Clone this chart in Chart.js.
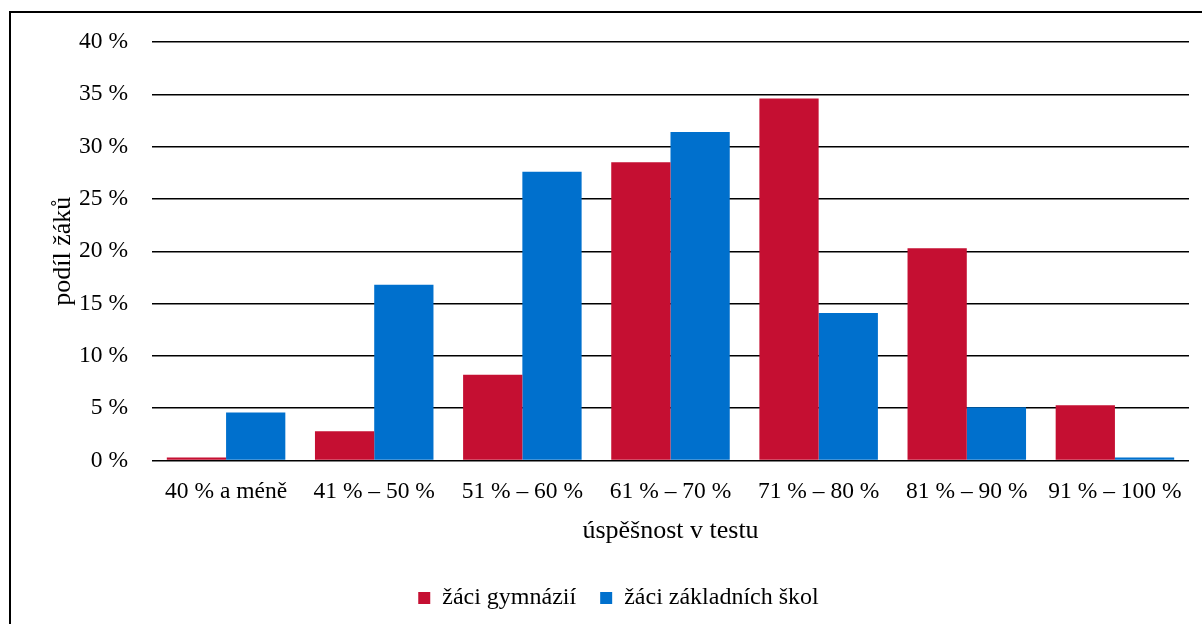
<!DOCTYPE html>
<html lang="cs">
<head>
<meta charset="UTF-8">
<title>Úspěšnost v testu</title>
<script src="https://cdn.jsdelivr.net/npm/chart.js"></script>
<style>
  html, body { margin: 0; padding: 0; background: #fff; overflow: hidden; }
  #wrap { width: 1202px; height: 624px; position: relative; }
</style>
</head>
<body>
<div id="wrap"><canvas id="chart" width="1202" height="624"></canvas></div>
<script>
const categories = ['40 % a méně', '41 % – 50 %', '51 % – 60 %', '61 % – 70 %', '71 % – 80 %', '81 % – 90 %', '91 % – 100 %'];
const gymnazia = [0.3, 2.8, 8.2, 28.5, 34.6, 20.3, 5.3];
const zakladniSkoly = [4.6, 16.8, 27.6, 31.4, 14.1, 5.1, 0.3];
const yTicks = [0, 5, 10, 15, 20, 25, 30, 35, 40];

const FONT = "'Liberation Serif', 'Times New Roman', serif";
const TICK_FS = 23.5;
const TITLE_FS = 26;
const LEGEND_FS = 24;
Chart.defaults.font.family = FONT;
Chart.defaults.font.size = TICK_FS;
Chart.defaults.color = '#000';

// outer frame of the chart
const framePlugin = {
    id: 'frame',
    afterDraw(chart) {
        const c = chart.ctx;
        c.save();
        c.strokeStyle = '#000';
        c.lineWidth = 2;
        c.strokeRect(10, 12, 1400, 800);
        c.restore();
    }
};

new Chart(document.getElementById('chart').getContext('2d'), {
    type: 'bar',
    data: {
        labels: categories,
        datasets: [
            { label: 'žáci gymnázií', data: gymnazia, backgroundColor: '#C50F32' },
            { label: 'žáci základních škol', data: zakladniSkoly, backgroundColor: '#0070CD' }
        ]
    },
    options: {
        responsive: false,
        animation: false,
        categoryPercentage: 0.8,
        barPercentage: 1,
        layout: { padding: { left: 48, right: 13, top: 42, bottom: 4 } },
        plugins: {
            tooltip: { enabled: false },
            legend: {
                position: 'bottom',
                labels: {
                    boxWidth: 12,
                    boxHeight: 12,
                    padding: 24,
                    font: { size: LEGEND_FS, family: FONT }
                }
            }
        },
        scales: {
            x: {
                grid: { display: false, drawTicks: false },
                border: { display: false },
                ticks: { padding: 17, maxRotation: 0, font: { size: TICK_FS } },
                title: { display: true, text: 'úspěšnost v testu', padding: { top: -7, bottom: 15 }, font: { size: TITLE_FS } }
            },
            y: {
                min: 0,
                max: 40,
                afterBuildTicks(scale) { scale.ticks = yTicks.map(v => ({ value: v })); },
                afterFit(scale) { scale.width = 104; },
                grid: { color: '#000', lineWidth: 1.6, drawTicks: false },
                border: { display: false },
                ticks: { padding: 24, callback: v => v + ' %', font: { size: TICK_FS } },
                title: { display: true, text: 'podíl žáků', padding: { top: 0, bottom: 0 }, font: { size: TITLE_FS } }
            }
        }
    },
    plugins: [framePlugin]
});
</script>
</body>
</html>
